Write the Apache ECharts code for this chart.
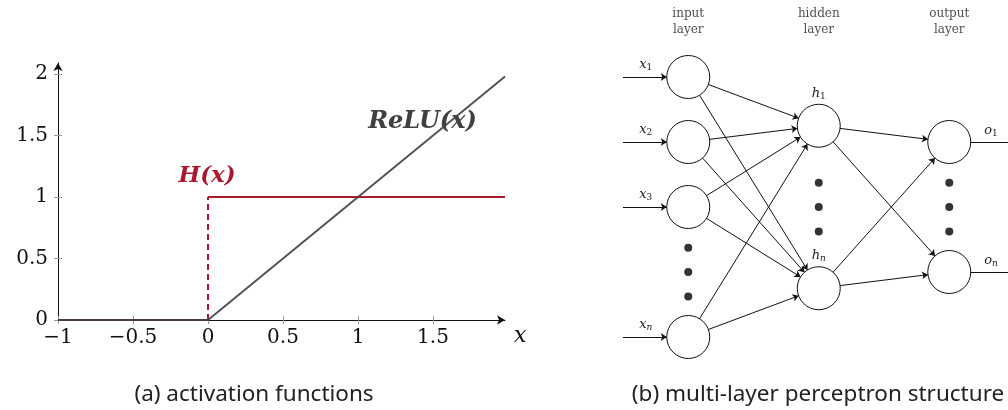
<!DOCTYPE html>
<html>
<head>
<meta charset="utf-8">
<script src="https://cdn.jsdelivr.net/npm/echarts@6/dist/echarts.min.js"></script>
<style>
  html, body { margin: 0; padding: 0; background: #fff; }
  #chart { width: 1008px; height: 410px; }
</style>
</head>
<body>
<div id="chart"></div>
<script>
// ---- (a) activation functions ----
const xTicks = [-1, -0.5, 0, 0.5, 1, 1.5];
const yTicks = [0, 0.5, 1, 1.5, 2];
const reluX = [-1, 0, 1.98];
const reluY = [0, 0, 1.98];
const stepX = [-1, 0, 0, 1.98];
const stepY = [0, 0, 1, 1];

// ---- (b) multi-layer perceptron ----
const layerNames = ['input', 'hidden', 'output'];
const inputRows = [0, 1, 2, 4];
const inputSubs = ['1', '2', '3', 'n'];
const hiddenRows = [0.75, 3.25];
const hiddenSubs = ['1', 'n'];
const outputRows = [1, 3];
const outputSubs = ['1', 'n'];
const inputDotRows = [2.625, 3, 3.375];
const hiddenDotRows = [1.625, 2, 2.375];
const outputDotRows = [1.625, 2, 2.375];

const RED = '#a8192e';
const GREY = '#404040';
const SERIF = 'DejaVu Serif';

function fmtTick(v) {
  return String(v).replace('-', '\u2212');
}
function pts(xs, ys, from, to) {
  const out = [];
  for (let i = from; i <= to; i++) out.push([xs[i], ys[i]]);
  return out;
}
// variable with subscript: digits upright, letters italic
function subLabel(letter, sub) {
  const style = /\d/.test(sub) ? 'd' : 's';
  return '{i|' + letter + '}{' + style + '|' + sub + '}';
}

// graph nodes and links
const nodes = [];
const links = [];
const subRich = {
  i: { fontFamily: SERIF, fontStyle: 'italic', fontSize: 13, color: '#222' },
  s: { fontFamily: SERIF, fontStyle: 'italic', fontSize: 9, color: '#222', verticalAlign: 'bottom', padding: [6, 0, 0, 0] },
  d: { fontFamily: SERIF, fontSize: 9, color: '#222', verticalAlign: 'bottom', padding: [6, 0, 0, 0] }
};
inputRows.forEach((r, k) => {
  nodes.push({ name: 'src' + k, value: [-0.5, r], symbolSize: 1, itemStyle: { opacity: 0 } });
  nodes.push({
    name: 'x' + k, value: [0, r],
    label: { show: true, position: 'left', distance: 14, offset: [0, -12],
      formatter: subLabel('x', inputSubs[k]), rich: subRich }
  });
  links.push({ source: 'src' + k, target: 'x' + k });
});
hiddenRows.forEach((r, k) => {
  nodes.push({
    name: 'h' + k, value: [1, r],
    label: { show: true, position: 'top', distance: 3,
      formatter: subLabel('h', hiddenSubs[k]), rich: subRich }
  });
});
outputRows.forEach((r, k) => {
  nodes.push({
    name: 'o' + k, value: [2, r],
    label: { show: true, position: 'right', distance: 13, offset: [0, -11],
      formatter: subLabel('o', outputSubs[k]), rich: subRich }
  });
  nodes.push({ name: 'dst' + k, value: [2.46, r], symbolSize: 1, itemStyle: { opacity: 0 } });
});
inputRows.forEach((r, i) => hiddenRows.forEach((h, j) => links.push({ source: 'x' + i, target: 'h' + j })));
hiddenRows.forEach((h, i) => outputRows.forEach((o, j) => links.push({ source: 'h' + i, target: 'o' + j })));
outputRows.forEach((o, k) => links.push({ source: 'o' + k, target: 'dst' + k, symbol: ['none', 'none'] }));

const dots = []
  .concat(inputDotRows.map(r => [0, r]))
  .concat(hiddenDotRows.map(r => [1, r]))
  .concat(outputDotRows.map(r => [2, r]));

const tickLabelStyle = { fontFamily: SERIF, fontSize: 20, color: '#111' };
const captionStyle = { fontFamily: 'Noto Sans', fontWeight: 'normal', fontSize: 22.5, color: '#222' };

const option = {
  animation: false,
  backgroundColor: '#fff',
  title: [
    { text: '(a) activation functions', left: 249, top: 378, textAlign: 'center', textStyle: captionStyle },
    { text: '(b) multi-layer perceptron structure', left: 813, top: 378, textAlign: 'center', textStyle: captionStyle }
  ],
  grid: [
    { left: 58, top: 63, width: 447, height: 257, containLabel: false },
    { left: 623, top: 12, width: 385, height: 357.5, containLabel: false }
  ],
  xAxis: [
    {
      gridIndex: 0, type: 'value', min: -1, max: 1.98,
      name: 'x', nameLocation: 'end', nameGap: 9,
      nameTextStyle: { fontFamily: SERIF, fontStyle: 'italic', fontSize: 22, color: '#111', verticalAlign: 'top', padding: [5, 0, 0, 0] },
      axisLine: { show: true, onZero: false, symbol: ['none', 'arrow'], symbolSize: [7, 8], lineStyle: { color: '#111', width: 1 } },
      axisTick: { show: true, inside: false, length: 4, customValues: xTicks, lineStyle: { color: '#999' } },
      axisLabel: { show: true, margin: 8, customValues: xTicks, formatter: fmtTick, ...tickLabelStyle },
      splitLine: { show: false }
    },
    {
      gridIndex: 0, type: 'value', min: -1, max: 1.98, position: 'bottom',
      axisLine: { show: false, onZero: false },
      axisTick: { show: true, inside: true, length: 4, customValues: xTicks, lineStyle: { color: '#999' } },
      axisLabel: { show: false },
      splitLine: { show: false }
    },
    {
      gridIndex: 1, type: 'value', min: -0.5, max: 2.45, show: false
    }
  ],
  yAxis: [
    {
      gridIndex: 0, type: 'value', min: 0, max: 2.09,
      axisLine: { show: true, onZero: false, symbol: ['none', 'arrow'], symbolSize: [7, 8], lineStyle: { color: '#111', width: 1 } },
      axisTick: { show: true, inside: false, length: 4, customValues: yTicks, lineStyle: { color: '#999' } },
      axisLabel: { show: true, margin: 10, customValues: yTicks, formatter: fmtTick, ...tickLabelStyle },
      splitLine: { show: false }
    },
    {
      gridIndex: 0, type: 'value', min: 0, max: 2.09, position: 'left',
      axisLine: { show: false, onZero: false },
      axisTick: { show: true, inside: true, length: 4, customValues: yTicks, lineStyle: { color: '#999' } },
      axisLabel: { show: false },
      splitLine: { show: false }
    },
    {
      gridIndex: 1, type: 'value', min: -1, max: 4.5, inverse: true, show: false
    }
  ],
  series: [
    // Heaviside step
    {
      type: 'line', xAxisIndex: 0, yAxisIndex: 0, data: pts(stepX, stepY, 0, 1),
      symbol: 'none', lineStyle: { color: RED, width: 2 }, z: 2
    },
    {
      type: 'line', xAxisIndex: 0, yAxisIndex: 0, data: pts(stepX, stepY, 1, 2),
      symbol: 'none', lineStyle: { color: RED, width: 2, type: [6, 4] }, z: 2,
      endLabel: {
        show: true, formatter: 'H(x)', fontFamily: SERIF, fontStyle: 'italic', fontWeight: 'bold',
        fontSize: 23, color: RED, align: 'center', verticalAlign: 'bottom', offset: [-9, -10]
      }
    },
    {
      type: 'line', xAxisIndex: 0, yAxisIndex: 0, data: pts(stepX, stepY, 2, 3),
      symbol: 'none', lineStyle: { color: RED, width: 2 }, z: 2
    },
    // ReLU
    {
      type: 'line', xAxisIndex: 0, yAxisIndex: 0, data: pts(reluX, reluY, 0, 2),
      symbol: 'none', lineStyle: { color: GREY, width: 2, opacity: 0.9 }, z: 3,
      markPoint: {
        symbol: 'circle', symbolSize: 0, silent: true,
        label: { show: true, position: 'inside', formatter: 'ReLU(x)', fontFamily: SERIF, fontStyle: 'italic', fontWeight: 'bold', fontSize: 24, color: GREY },
        data: [{ coord: [1.43, 1.61] }]
      }
    },
    // network
    {
      type: 'graph', coordinateSystem: 'cartesian2d', xAxisIndex: 2, yAxisIndex: 2,
      layout: 'none', roam: false, silent: true,
      symbol: 'circle', symbolSize: 43,
      itemStyle: { color: '#fff', borderColor: '#111', borderWidth: 1 },
      edgeSymbol: ['none', 'arrow'], edgeSymbolSize: 6,
      lineStyle: { color: '#111', width: 1, opacity: 1, curveness: 0 },
      label: { show: false },
      data: nodes, links: links, z: 4
    },
    {
      type: 'scatter', xAxisIndex: 2, yAxisIndex: 2, data: dots,
      symbol: 'circle', symbolSize: 8, itemStyle: { color: '#000' }, silent: true, z: 5
    },
    {
      type: 'scatter', xAxisIndex: 2, yAxisIndex: 2, silent: true, z: 5,
      symbolSize: 0,
      data: layerNames.map((n, i) => ({ value: [i, -0.85], name: n })),
      label: {
        show: true, position: 'inside', formatter: p => p.name + '\nlayer',
        fontFamily: SERIF, fontSize: 12, lineHeight: 16, color: '#222'
      }
    }
  ]
};

const chart = echarts.init(document.getElementById('chart'), null, { renderer: 'canvas' });
chart.setOption(option);
</script>
</body>
</html>
